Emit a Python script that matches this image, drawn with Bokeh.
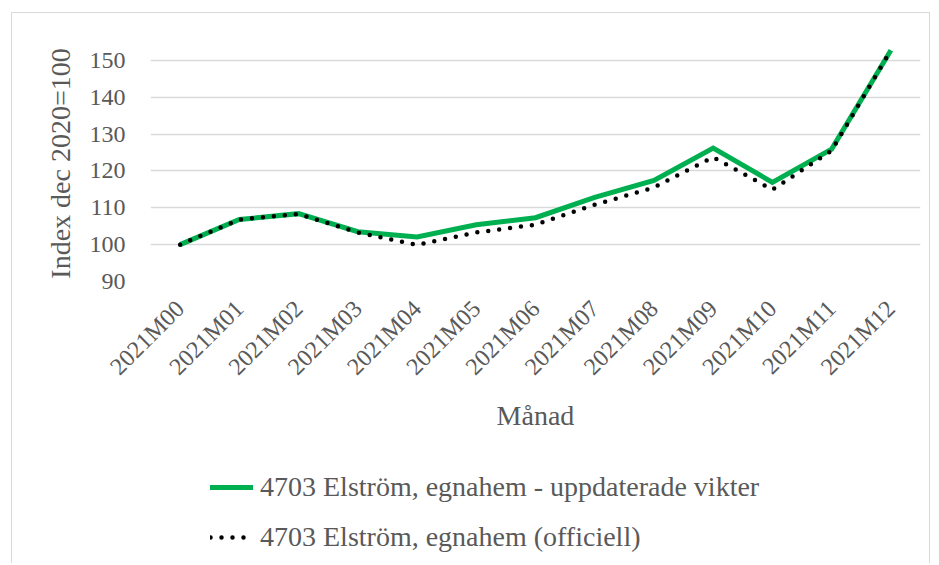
import math
from bokeh.plotting import figure
from bokeh.layouts import column
from bokeh.models import Range1d, Legend, LegendItem, FixedTicker, ColumnDataSource
from bokeh.embed import file_html
from bokeh.resources import INLINE

months = ["2021M00", "2021M01", "2021M02", "2021M03", "2021M04", "2021M05", "2021M06",
          "2021M07", "2021M08", "2021M09", "2021M10", "2021M11", "2021M12"]
updated_weights = [100, 106.8, 108.4, 103.5, 102.1, 105.4, 107.3, 112.8, 117.4, 126.2, 116.9, 125.9, 152.7]
official = [100, 106.8, 108.3, 103.3, 99.9, 103.3, 105.4, 110.8, 115.5, 123.7, 114.9, 125.5, 152.7]
y_ticks = [90, 100, 110, 120, 130, 140, 150]
name_updated = "4703 Elström, egnahem - uppdaterade vikter"
name_official = "4703 Elström, egnahem (officiell)"

FONT = "Liberation Serif"
TXT = "#595959"
GREEN = "#00b050"

src = ColumnDataSource(dict(m=months, upd=updated_weights, off=official))

# ---- main chart ----
p = figure(x_range=months, y_range=Range1d(90, 154), width=917, height=432,
           output_backend="svg", toolbar_location=None,
           min_border_left=138, min_border_right=9, min_border_top=32, min_border_bottom=164)
p.x_range.range_padding = 0
p.outline_line_color = None
p.background_fill_color = "white"
p.border_fill_color = "white"

p.xgrid.grid_line_color = None
p.ygrid.grid_line_color = "#d9d9d9"
p.ygrid.grid_line_width = 1.5
p.yaxis.ticker = FixedTicker(ticks=y_ticks)

for ax in (p.xaxis[0], p.yaxis[0]):
    ax.axis_line_color = None
    ax.major_tick_line_color = None
    ax.minor_tick_line_color = None
    ax.major_tick_out = 0
    ax.major_tick_in = 0
    ax.major_label_text_font = FONT
    ax.major_label_text_color = TXT
    ax.major_label_text_font_size = "24px"
    ax.axis_label_text_font = FONT
    ax.axis_label_text_color = TXT
    ax.axis_label_text_font_size = "28px"
    ax.axis_label_text_font_style = "normal"

p.yaxis.axis_label = "Index dec 2020=100"
p.yaxis.major_label_standoff = 25
p.yaxis.axis_label_standoff = 11
p.xaxis.axis_label = "Månad"
p.xaxis.major_label_orientation = math.pi / 4
p.xaxis.major_label_standoff = 23
p.xaxis.axis_label_standoff = 8

line_upd = dict(line_color=GREEN, line_width=5, line_join="miter")
line_off = dict(line_color="black", line_width=4.5, line_dash="0 11", line_cap="round")

p.line("m", "upd", source=src, **line_upd)
p.line("m", "off", source=src, **line_off)

# ---- legend strip (same series; lines fall outside its empty range) ----
q = figure(x_range=months, y_range=Range1d(0, 1), width=917, height=118,
           output_backend="svg", toolbar_location=None,
           x_axis_type=None, y_axis_type=None,
           min_border_left=138, min_border_top=0, min_border_right=9, min_border_bottom=0)
q.outline_line_color = None
q.grid.grid_line_color = None
q.border_fill_color = "white"
q1 = q.line("m", "upd", source=src, line_cap="round", **line_upd)
q2 = q.line("m", "off", source=src, **line_off)

legend = Legend(items=[LegendItem(label=name_updated, renderers=[q1]),
                       LegendItem(label=name_official, renderers=[q2])],
                location=(60, 10), orientation="vertical")
legend.label_text_font = FONT
legend.label_text_color = TXT
legend.label_text_font_size = "28px"
legend.glyph_width = 43
legend.glyph_height = 30
legend.label_height = 30
legend.label_standoff = 7
legend.spacing = 18
legend.padding = 0
legend.margin = 0
legend.border_line_color = None
legend.background_fill_alpha = 0
q.add_layout(legend, "center")

layout = column(p, q, spacing=0)
layout.styles = {"border": "1px solid #d9d9d9", "border-bottom": "none",
                 "margin-left": "11px", "margin-top": "12px"}

open("out.html", "w").write(file_html(layout, INLINE))
